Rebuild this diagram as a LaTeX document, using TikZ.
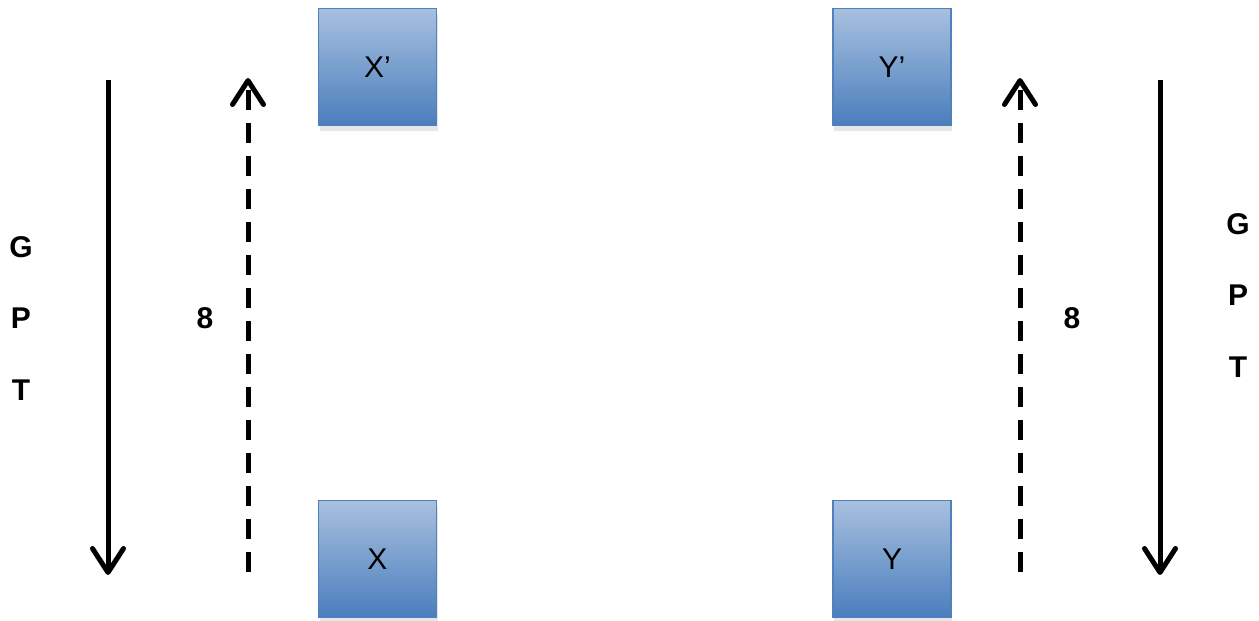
\documentclass[tikz,border=0pt]{standalone}
\usepackage{fontspec}
\setmainfont{Liberation Sans}
\usetikzlibrary{arrows.meta,shadows}
\definecolor{boxtop}{HTML}{A8C0DF}
\definecolor{boxbot}{HTML}{4A7EBD}
\definecolor{boxline}{HTML}{4F81BD}
\tikzset{
  box/.style={draw=boxline, line width=1.2pt, minimum width=118pt, minimum height=117pt,
    inner sep=0pt, top color=boxtop, bottom color=boxbot,
    drop shadow={opacity=0.2, shadow xshift=1pt, shadow yshift=-5pt},
    font=\fontsize{30}{36}\selectfont},
  lbl/.style={font=\fontsize{30}{36}\selectfont\bfseries, inner sep=0pt},
  barb/.style={-{Straight Barb[length=24pt,width=31pt,line width=5pt,round]}},
  solidarrow/.style={line width=5pt, barb},
  dasharrow/.style={line width=5pt, dash pattern=on 20pt off 13pt, barb},
}
\begin{document}
\begin{tikzpicture}[x=1pt,y=-1pt]
\useasboundingbox (0,0) rectangle (1259,621);
\node[box] (Xp) at (377.5,67) {X’};
\node[box] (X) at (377.5,559) {X};
\node[box] (Yp) at (892,67) {Y’};
\node[box] (Y) at (892,559) {Y};
\coordinate (ls) at (108,80);
\coordinate (le) at (108,575);
\coordinate (lds) at (248,572);
\coordinate (lde) at (248,78);
\coordinate (rds) at (1020,572);
\coordinate (rde) at (1020,78);
\coordinate (rs) at (1160,80);
\coordinate (re) at (1160,575);
\draw[solidarrow] (ls) -- (le);
\draw[dasharrow] (lds) -- (lde);
\draw[dasharrow] (rds) -- (rde);
\draw[solidarrow] (rs) -- (re);
\node[lbl] (lg) at (21,247) {G};
\node[lbl] (lp) at (21,318) {P};
\node[lbl] (lt) at (21,390) {T};
\node[lbl] (l8) at (205,318) {8};
\node[lbl] (r8) at (1072,318) {8};
\node[lbl] (rg) at (1238,224) {G};
\node[lbl] (rp) at (1238,295) {P};
\node[lbl] (rt) at (1238,367) {T};
\end{tikzpicture}
\end{document}
